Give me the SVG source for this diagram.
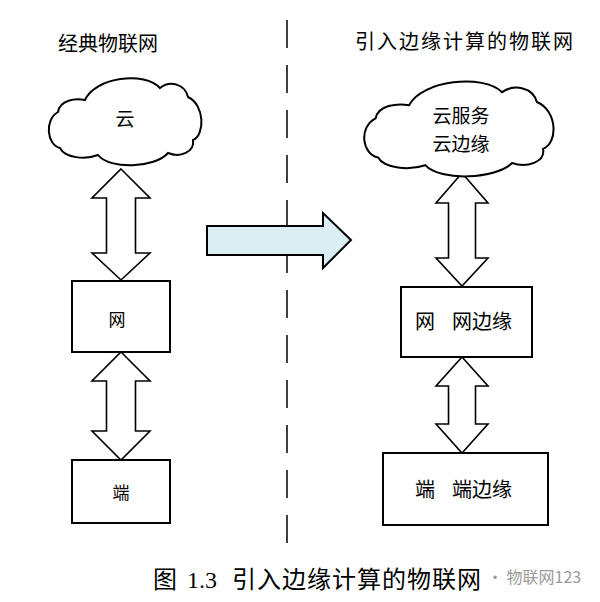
<svg xmlns="http://www.w3.org/2000/svg" width="600" height="602" viewBox="0 0 600 602">
<style>
.t{font-family:"Noto Sans CJK SC","Noto Sans",sans-serif;fill:#000}
.box{fill:#fff;stroke:#000;stroke-width:2}
.darr{fill:#fff;stroke:#000;stroke-width:1.6;stroke-linejoin:miter}
.cloud{fill:#fff;stroke:#000;stroke-width:2;vector-effect:non-scaling-stroke}
</style>
<defs>
<path id="cloudShape" class="cloud" d="M13,73 C0,70 -3,45 11,37 C13,25 28,23 38,25 C48,2 98,-4 113,13 C123,5 138,9 141,22 C158,30 158,60 146,65 C148,77 133,83 121,78 C108,93 63,95 51,80 C38,85 18,83 13,73 Z"/>
</defs>
<rect width="600" height="602" fill="#fff"/>
<line x1="287" y1="20" x2="287" y2="545" stroke="#000" stroke-width="1.5" stroke-dasharray="28 17"/>
<text class="t" x="58" y="51" font-size="20">经典物联网</text>
<text class="t" x="355" y="49" font-size="20" letter-spacing="2">引入边缘计算的物联网</text>
<g id="connectors">
<polygon class="darr" points="121,169 150,198 135.5,198 135.5,253 150,253 121,280 92,253 106.5,253 106.5,198 92,198"/>
<polygon class="darr" points="121,352 150,381 135.5,381 135.5,431 150,431 121,460 92,431 106.5,431 106.5,381 92,381"/>
<polygon class="darr" points="462,173 488,203 475.5,203 475.5,258 488,258 462,286 436,258 448.5,258 448.5,203 436,203"/>
<polygon class="darr" points="462,357 488,386 475.5,386 475.5,424 488,424 462,453 436,424 448.5,424 448.5,386 436,386"/>
<polygon points="207,226 323,226 323,213 351,240 323,268 323,255 207,255" fill="#DAEEF3" stroke="#000" stroke-width="2"/>
</g>
<g id="cloud-left">
<use href="#cloudShape" transform="translate(47,75)"/>
<text class="t" x="125" y="126" font-size="19" text-anchor="middle">云</text>
</g>
<g id="cloud-right">
<use href="#cloudShape" transform="translate(362,78) scale(1.24,1.09)"/>
<text class="t" x="461" y="123" font-size="19" text-anchor="middle">云服务</text>
<text class="t" x="461" y="151" font-size="19" text-anchor="middle">云边缘</text>
</g>
<g id="net-left">
<rect class="box" x="72" y="281" width="98" height="71"/>
<text class="t" x="117" y="326" font-size="17" text-anchor="middle">网</text>
</g>
<g id="end-left">
<rect class="box" x="72" y="460" width="98" height="63"/>
<text class="t" x="121" y="499" font-size="17" text-anchor="middle">端</text>
</g>
<g id="net-right">
<rect class="box" x="401" y="287" width="131" height="70"/>
<text class="t" x="415" y="329" font-size="20">网</text>
<text class="t" x="452" y="329" font-size="20">网边缘</text>
</g>
<g id="end-right">
<rect class="box" x="383" y="453" width="165" height="72"/>
<text class="t" x="415" y="497" font-size="20">端</text>
<text class="t" x="452" y="497" font-size="20">端边缘</text>
</g>
<g id="caption">
<text class="t" x="153" y="588" font-size="24">图</text>
<text x="187" y="588" font-size="24" font-family="Liberation Serif,serif">1.3</text>
<text class="t" x="232" y="588" font-size="24" letter-spacing="1">引入边缘计算的物联网</text>
<text x="487" y="583" font-size="16" fill="#9a9a9a" font-family="Noto Sans CJK SC,sans-serif">· 物联网123</text>
</g>
</svg>
